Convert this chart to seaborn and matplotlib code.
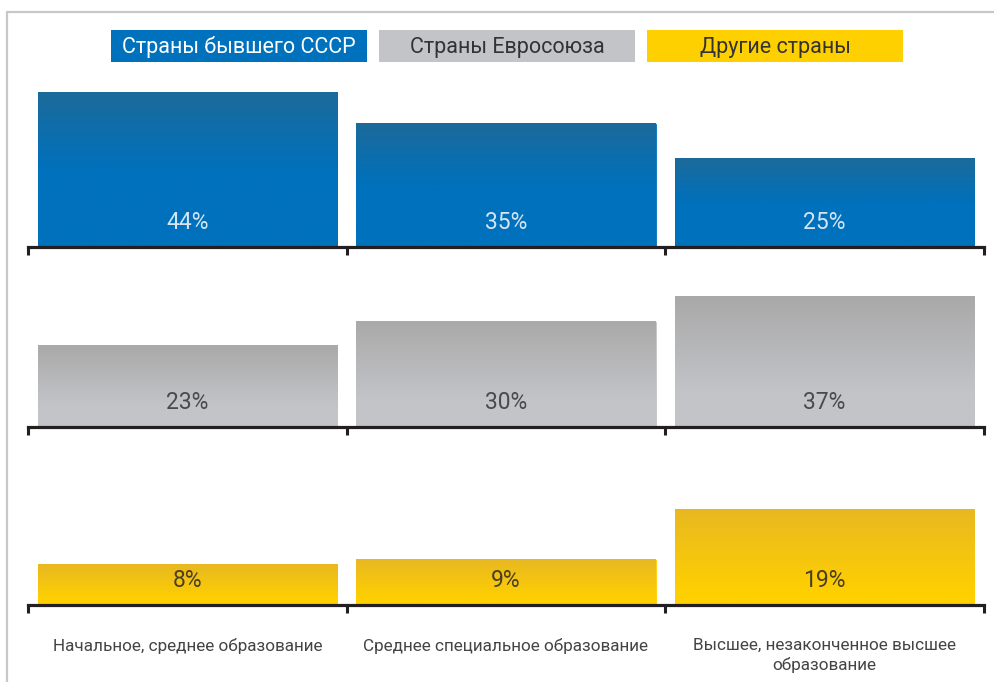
import numpy as np
import pandas as pd
import matplotlib
matplotlib.use("Agg")
import matplotlib.pyplot as plt
from matplotlib.colors import to_rgb
from matplotlib.lines import Line2D
from matplotlib.patches import Rectangle
import seaborn as sns

# ---- data ----
categories = [
    "Начальное, среднее образование",
    "Среднее специальное образование",
    "Высшее, незаконченное высшее\nобразование",
]
groups = ["Страны бывшего СССР", "Страны Евросоюза", "Другие страны"]
ussr_values = [44, 35, 25]
eu_values = [23, 30, 37]
other_values = [8, 9, 19]

# ---- styling ----
sns.set_style("white")
plt.rcParams["font.family"] = ["Roboto", "DejaVu Sans"]

W, H = 994, 682
fig = plt.figure(figsize=(W / 100, H / 100), dpi=100)

AX_COLOR = "#231f20"
base_colors = ["#0071bc", "#c3c4c8", "#ffd000"]
top_colors = ["#1c6a9a", "#a9a9a9", "#e8b822"]
grad_span = [0.5, 0.75, 0.9]          # fraction of bar height covered by gradient
label_colors = ["#d6e4f2", "#4a4a4a", "#4a3f22"]
legend_text_colors = ["white", "#333333", "#333333"]
px_per_unit = [3.5, 3.5, 5.0]         # vertical scale of each panel
baselines_px = [246.5, 426.5, 604.5]  # baseline of each panel, from top
series = [ussr_values, eu_values, other_values]

ax_left_px, ax_right_px = 28, 984
panel_h_px = 170


def gradient_bars(ax, top, bottom, span):
    top, bottom = np.array(to_rgb(top)), np.array(to_rgb(bottom))
    for p in ax.patches:
        x0, y0, w, h = p.get_x(), p.get_y(), p.get_width(), p.get_height()
        n = 200
        t = np.linspace(0, 1, n)              # 0 at top of the bar
        f = np.clip(t / span, 0, 1)[:, None]
        img = top * (1 - f) + bottom * f
        ax.imshow(img[:, None, :], extent=[x0, x0 + w, y0, y0 + h],
                  aspect="auto", origin="upper", interpolation="bilinear",
                  zorder=p.get_zorder() + 0.1)


for i, (vals, name) in enumerate(zip(series, groups)):
    bottom_frac = (H - baselines_px[i]) / H
    ax = fig.add_axes([ax_left_px / W, bottom_frac,
                       (ax_right_px - ax_left_px) / W, panel_h_px / H])
    df = pd.DataFrame({"category": categories, "value": vals})
    sns.barplot(data=df, x="category", y="value", ax=ax, width=0.94,
                color=base_colors[i], saturation=1, edgecolor=base_colors[i],
                linewidth=0.6)
    gradient_bars(ax, top_colors[i], base_colors[i], grad_span[i])

    ax.set_xlim(-0.5, 2.5)
    ax.set_ylim(0, panel_h_px / px_per_unit[i])
    ax.set_facecolor("none")
    for s in ["left", "right", "top"]:
        ax.spines[s].set_visible(False)
    ax.spines["bottom"].set_color(AX_COLOR)
    ax.spines["bottom"].set_linewidth(2.3)
    ax.spines["bottom"].set_zorder(5)
    ax.set_yticks([])
    ax.set_xlabel("")
    ax.set_ylabel("")

    # boundary ticks between categories
    ax.set_xticks([-0.5, 0.5, 1.5, 2.5])
    ax.tick_params(axis="x", which="major", direction="out", length=6,
                   width=2.2, color=AX_COLOR, labelbottom=False, bottom=True)
    if i == 2:
        ax.set_xticks([0, 1, 2], minor=True)
        ax.set_xticklabels(categories, minor=True, fontsize=12.3,
                           color="#444444", linespacing=1.3)
        ax.tick_params(axis="x", which="minor", length=0, pad=24)
    else:
        ax.set_xticks([], minor=True)

    for j, v in enumerate(vals):
        ax.annotate(f"{v}%", xy=(j, 0), xytext=(0, 17), textcoords="offset points",
                    ha="center", va="center", fontsize=16.5, fontweight="normal",
                    color=label_colors[i], zorder=10)

# ---- legend boxes ----
box_x = [111, 379, 647]
box_w, box_y, box_h = 256, 30, 32
for name, x, c, tc in zip(groups, box_x, base_colors, legend_text_colors):
    fig.patches.append(Rectangle((x / W, 1 - (box_y + box_h) / H), box_w / W, box_h / H,
                                 transform=fig.transFigure, facecolor=c,
                                 edgecolor="none", zorder=1))
    fig.text((x + box_w / 2) / W, 1 - (box_y + box_h / 2 + 1) / H, name,
             ha="center", va="center", fontsize=15.5, color=tc, zorder=2)

# ---- frame lines ----
frame_c = "#c8c8c8"
fig.add_artist(Line2D([7 / W, 1], [1 - 12 / H, 1 - 12 / H], color=frame_c, lw=1.6,
                      transform=fig.transFigure))
fig.add_artist(Line2D([7 / W, 7 / W], [1 - 12 / H, 0], color=frame_c, lw=1.6,
                      transform=fig.transFigure))

fig.savefig("out.png", dpi=100, facecolor="white")
